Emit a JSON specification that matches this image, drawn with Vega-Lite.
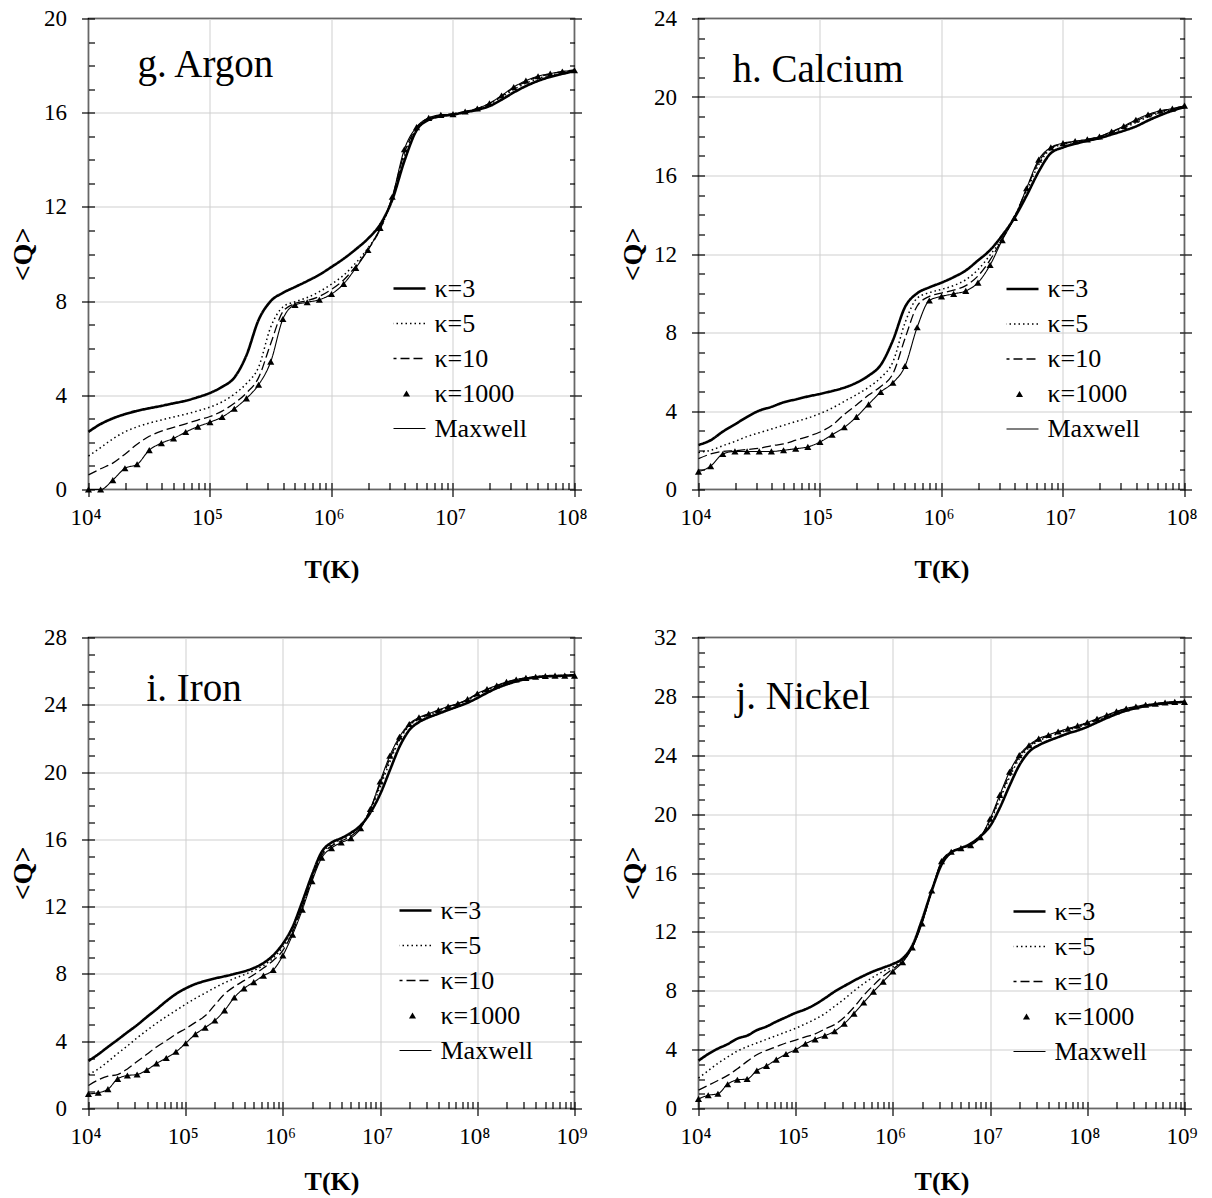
{
"$schema": "https://vega.github.io/schema/vega-lite/v6.json",
"background": "white",
"padding": {"left": 8.5, "top": 6.5, "right": 5, "bottom": 0},
"columns": 2,
"bounds": "flush",
"spacing": {"row": 148, "column": 124},
"resolve": {"scale": {"strokeDash": "independent"}, "legend": {"strokeDash": "independent"}},
"config": {
  "view": {"stroke": "black", "strokeWidth": 1.5},
  "font": "Liberation Serif",
  "axis": {"labelFont": "Liberation Serif", "titleFont": "Liberation Serif", "labelColor": "black", "titleColor": "black", "tickColor": "black", "tickWidth": 1.2, "domain": false, "gridColor": "#cfcfcf", "gridWidth": 1, "labelFlush": false, "labelOverlap": false},
  "legend": {"labelFont": "Liberation Serif"},
  "title": {"font": "Liberation Serif", "fontSize": 39, "fontWeight": "normal", "color": "black", "anchor": "start", "frame": "group", "orient": "top", "offset": 0, "baseline": "alphabetic"}
},
"datasets": {
"g": [
{"T":1e4,"k3":2.45,"k5":1.42,"k10":0.62,"k1000":0,"mx":0},
{"T":1.2589e4,"k3":2.78,"k5":1.78,"k10":0.88,"k1000":0,"mx":0},
{"T":1.5849e4,"k3":3.02,"k5":2.15,"k10":1.12,"k1000":0.4,"mx":0.4},
{"T":1.9953e4,"k3":3.2,"k5":2.45,"k10":1.5,"k1000":0.9,"mx":0.9},
{"T":2.5119e4,"k3":3.34,"k5":2.66,"k10":1.92,"k1000":1.07,"mx":1.07},
{"T":3.1623e4,"k3":3.45,"k5":2.82,"k10":2.26,"k1000":1.67,"mx":1.67},
{"T":3.9811e4,"k3":3.55,"k5":2.95,"k10":2.48,"k1000":1.97,"mx":1.97},
{"T":5.0119e4,"k3":3.66,"k5":3.08,"k10":2.64,"k1000":2.17,"mx":2.17},
{"T":6.3096e4,"k3":3.77,"k5":3.2,"k10":2.79,"k1000":2.44,"mx":2.44},
{"T":7.9433e4,"k3":3.92,"k5":3.34,"k10":2.95,"k1000":2.67,"mx":2.67},
{"T":1e5,"k3":4.1,"k5":3.5,"k10":3.1,"k1000":2.86,"mx":2.86},
{"T":1.2589e5,"k3":4.36,"k5":3.72,"k10":3.33,"k1000":3.08,"mx":3.08},
{"T":1.5849e5,"k3":4.75,"k5":4.05,"k10":3.66,"k1000":3.43,"mx":3.43},
{"T":1.9953e5,"k3":5.7,"k5":4.5,"k10":4.1,"k1000":3.87,"mx":3.87},
{"T":2.5119e5,"k3":7.2,"k5":5.2,"k10":4.75,"k1000":4.45,"mx":4.45},
{"T":3.1623e5,"k3":8.0,"k5":6.9,"k10":6.2,"k1000":5.43,"mx":5.43},
{"T":3.9811e5,"k3":8.35,"k5":7.75,"k10":7.55,"k1000":7.24,"mx":7.24},
{"T":5.0119e5,"k3":8.6,"k5":7.97,"k10":7.9,"k1000":7.84,"mx":7.84},
{"T":6.3096e5,"k3":8.85,"k5":8.15,"k10":8.02,"k1000":7.95,"mx":7.95},
{"T":7.9433e5,"k3":9.12,"k5":8.4,"k10":8.2,"k1000":8.06,"mx":8.06},
{"T":1e6,"k3":9.45,"k5":8.72,"k10":8.5,"k1000":8.3,"mx":8.3},
{"T":1.2589e6,"k3":9.8,"k5":9.1,"k10":8.9,"k1000":8.73,"mx":8.73},
{"T":1.5849e6,"k3":10.2,"k5":9.62,"k10":9.48,"k1000":9.41,"mx":9.41},
{"T":1.9953e6,"k3":10.65,"k5":10.25,"k10":10.18,"k1000":10.17,"mx":10.17},
{"T":2.5119e6,"k3":11.25,"k5":11.05,"k10":11.05,"k1000":11.11,"mx":11.11},
{"T":3.1623e6,"k3":12.3,"k5":12.38,"k10":12.4,"k1000":12.43,"mx":12.43},
{"T":3.9811e6,"k3":13.95,"k5":14.15,"k10":14.3,"k1000":14.45,"mx":14.45},
{"T":5.0119e6,"k3":15.25,"k5":15.32,"k10":15.36,"k1000":15.39,"mx":15.39},
{"T":6.3096e6,"k3":15.7,"k5":15.75,"k10":15.77,"k1000":15.78,"mx":15.78},
{"T":7.9433e6,"k3":15.85,"k5":15.88,"k10":15.9,"k1000":15.91,"mx":15.91},
{"T":1e7,"k3":15.92,"k5":15.94,"k10":15.95,"k1000":15.94,"mx":15.94},
{"T":1.2589e7,"k3":16.02,"k5":16.04,"k10":16.05,"k1000":16.05,"mx":16.05},
{"T":1.5849e7,"k3":16.12,"k5":16.16,"k10":16.18,"k1000":16.18,"mx":16.18},
{"T":1.9953e7,"k3":16.28,"k5":16.36,"k10":16.4,"k1000":16.4,"mx":16.4},
{"T":2.5119e7,"k3":16.55,"k5":16.66,"k10":16.7,"k1000":16.73,"mx":16.73},
{"T":3.1623e7,"k3":16.86,"k5":16.98,"k10":17.05,"k1000":17.09,"mx":17.09},
{"T":3.9811e7,"k3":17.13,"k5":17.25,"k10":17.32,"k1000":17.36,"mx":17.36},
{"T":5.0119e7,"k3":17.35,"k5":17.45,"k10":17.52,"k1000":17.55,"mx":17.55},
{"T":6.3096e7,"k3":17.52,"k5":17.6,"k10":17.64,"k1000":17.66,"mx":17.66},
{"T":7.9433e7,"k3":17.65,"k5":17.7,"k10":17.74,"k1000":17.75,"mx":17.75},
{"T":1e8,"k3":17.77,"k5":17.8,"k10":17.82,"k1000":17.8,"mx":17.8}
],
"h": [
{"T":1e4,"k3":2.27,"k5":1.89,"k10":1.57,"k1000":0.91,"mx":0.91},
{"T":1.2589e4,"k3":2.51,"k5":2.0,"k10":1.81,"k1000":1.19,"mx":1.19},
{"T":1.5849e4,"k3":2.95,"k5":2.23,"k10":1.94,"k1000":1.81,"mx":1.81},
{"T":1.9953e4,"k3":3.32,"k5":2.45,"k10":1.98,"k1000":1.94,"mx":1.94},
{"T":2.5119e4,"k3":3.7,"k5":2.7,"k10":2.04,"k1000":1.94,"mx":1.94},
{"T":3.1623e4,"k3":4.02,"k5":2.89,"k10":2.1,"k1000":1.94,"mx":1.94},
{"T":3.9811e4,"k3":4.21,"k5":3.08,"k10":2.23,"k1000":1.94,"mx":1.94},
{"T":5.0119e4,"k3":4.44,"k5":3.27,"k10":2.32,"k1000":2.0,"mx":2.0},
{"T":6.3096e4,"k3":4.59,"k5":3.46,"k10":2.51,"k1000":2.08,"mx":2.08},
{"T":7.9433e4,"k3":4.74,"k5":3.64,"k10":2.7,"k1000":2.17,"mx":2.17},
{"T":1e5,"k3":4.87,"k5":3.87,"k10":2.93,"k1000":2.42,"mx":2.42},
{"T":1.2589e5,"k3":5.02,"k5":4.15,"k10":3.27,"k1000":2.79,"mx":2.79},
{"T":1.5849e5,"k3":5.19,"k5":4.49,"k10":3.83,"k1000":3.17,"mx":3.17},
{"T":1.9953e5,"k3":5.44,"k5":4.83,"k10":4.31,"k1000":3.7,"mx":3.7},
{"T":2.5119e5,"k3":5.8,"k5":5.21,"k10":4.81,"k1000":4.34,"mx":4.34},
{"T":3.1623e5,"k3":6.35,"k5":5.7,"k10":5.25,"k1000":4.97,"mx":4.97},
{"T":3.9811e5,"k3":7.6,"k5":6.5,"k10":5.9,"k1000":5.44,"mx":5.44},
{"T":5.0119e5,"k3":9.3,"k5":8.5,"k10":7.7,"k1000":6.29,"mx":6.29},
{"T":6.3096e5,"k3":10.0,"k5":9.75,"k10":9.35,"k1000":8.27,"mx":8.27},
{"T":7.9433e5,"k3":10.3,"k5":10.03,"k10":9.84,"k1000":9.63,"mx":9.63},
{"T":1e6,"k3":10.54,"k5":10.2,"k10":10.01,"k1000":9.84,"mx":9.84},
{"T":1.2589e6,"k3":10.82,"k5":10.39,"k10":10.16,"k1000":9.97,"mx":9.97},
{"T":1.5849e6,"k3":11.16,"k5":10.69,"k10":10.39,"k1000":10.12,"mx":10.12},
{"T":1.9953e6,"k3":11.67,"k5":11.2,"k10":10.88,"k1000":10.54,"mx":10.54},
{"T":2.5119e6,"k3":12.2,"k5":11.95,"k10":11.7,"k1000":11.44,"mx":11.44},
{"T":3.1623e6,"k3":12.95,"k5":12.8,"k10":12.76,"k1000":12.71,"mx":12.71},
{"T":3.9811e6,"k3":13.84,"k5":13.9,"k10":13.88,"k1000":13.84,"mx":13.84},
{"T":5.0119e6,"k3":14.97,"k5":15.2,"k10":15.3,"k1000":15.35,"mx":15.35},
{"T":6.3096e6,"k3":16.2,"k5":16.55,"k10":16.7,"k1000":16.81,"mx":16.81},
{"T":7.9433e6,"k3":17.14,"k5":17.35,"k10":17.4,"k1000":17.43,"mx":17.43},
{"T":1e7,"k3":17.43,"k5":17.58,"k10":17.62,"k1000":17.65,"mx":17.65},
{"T":1.2589e7,"k3":17.62,"k5":17.7,"k10":17.73,"k1000":17.75,"mx":17.75},
{"T":1.5849e7,"k3":17.77,"k5":17.82,"k10":17.84,"k1000":17.84,"mx":17.84},
{"T":1.9953e7,"k3":17.9,"k5":17.96,"k10":17.98,"k1000":17.99,"mx":17.99},
{"T":2.5119e7,"k3":18.09,"k5":18.18,"k10":18.22,"k1000":18.24,"mx":18.24},
{"T":3.1623e7,"k3":18.28,"k5":18.42,"k10":18.48,"k1000":18.52,"mx":18.52},
{"T":3.9811e7,"k3":18.5,"k5":18.7,"k10":18.78,"k1000":18.84,"mx":18.84},
{"T":5.0119e7,"k3":18.8,"k5":18.98,"k10":19.05,"k1000":19.11,"mx":19.11},
{"T":6.3096e7,"k3":19.07,"k5":19.2,"k10":19.26,"k1000":19.3,"mx":19.3},
{"T":7.9433e7,"k3":19.3,"k5":19.37,"k10":19.4,"k1000":19.41,"mx":19.41},
{"T":1e8,"k3":19.49,"k5":19.54,"k10":19.56,"k1000":19.56,"mx":19.56}
],
"i": [
{"T":1e4,"k3":2.83,"k5":2.02,"k10":1.37,"k1000":0.87,"mx":0.87},
{"T":1.2589e4,"k3":3.22,"k5":2.35,"k10":1.7,"k1000":0.94,"mx":0.94},
{"T":1.5849e4,"k3":3.66,"k5":2.79,"k10":1.92,"k1000":1.15,"mx":1.15},
{"T":1.9953e4,"k3":4.09,"k5":3.27,"k10":2.02,"k1000":1.76,"mx":1.76},
{"T":2.5119e4,"k3":4.53,"k5":3.72,"k10":2.35,"k1000":1.96,"mx":1.96},
{"T":3.1623e4,"k3":4.96,"k5":4.2,"k10":2.79,"k1000":2.02,"mx":2.02},
{"T":3.9811e4,"k3":5.44,"k5":4.64,"k10":3.22,"k1000":2.29,"mx":2.29},
{"T":5.0119e4,"k3":5.9,"k5":5.07,"k10":3.66,"k1000":2.68,"mx":2.68},
{"T":6.3096e4,"k3":6.38,"k5":5.46,"k10":4.03,"k1000":3.0,"mx":3.0},
{"T":7.9433e4,"k3":6.81,"k5":5.83,"k10":4.42,"k1000":3.37,"mx":3.37},
{"T":1e5,"k3":7.14,"k5":6.2,"k10":4.75,"k1000":3.88,"mx":3.88},
{"T":1.2589e5,"k3":7.4,"k5":6.55,"k10":5.12,"k1000":4.42,"mx":4.42},
{"T":1.5849e5,"k3":7.58,"k5":6.86,"k10":5.51,"k1000":4.81,"mx":4.81},
{"T":1.9953e5,"k3":7.73,"k5":7.18,"k10":6.16,"k1000":5.23,"mx":5.23},
{"T":2.5119e5,"k3":7.86,"k5":7.47,"k10":6.81,"k1000":5.83,"mx":5.83},
{"T":3.1623e5,"k3":8.0,"k5":7.73,"k10":7.25,"k1000":6.6,"mx":6.6},
{"T":3.9811e5,"k3":8.15,"k5":7.95,"k10":7.6,"k1000":7.14,"mx":7.14},
{"T":5.0119e5,"k3":8.35,"k5":8.2,"k10":7.95,"k1000":7.51,"mx":7.51},
{"T":6.3096e5,"k3":8.65,"k5":8.5,"k10":8.35,"k1000":7.9,"mx":7.9},
{"T":7.9433e5,"k3":9.1,"k5":8.95,"k10":8.8,"k1000":8.23,"mx":8.23},
{"T":1e6,"k3":9.8,"k5":9.6,"k10":9.4,"k1000":9.1,"mx":9.1},
{"T":1.2589e6,"k3":10.8,"k5":10.6,"k10":10.5,"k1000":10.34,"mx":10.34},
{"T":1.5849e6,"k3":12.3,"k5":12.1,"k10":12.0,"k1000":11.82,"mx":11.82},
{"T":1.9953e6,"k3":13.9,"k5":13.75,"k10":13.65,"k1000":13.52,"mx":13.52},
{"T":2.5119e6,"k3":15.26,"k5":15.15,"k10":15.05,"k1000":14.91,"mx":14.91},
{"T":3.1623e6,"k3":15.81,"k5":15.7,"k10":15.6,"k1000":15.48,"mx":15.48},
{"T":3.9811e6,"k3":16.07,"k5":16.0,"k10":15.9,"k1000":15.81,"mx":15.81},
{"T":5.0119e6,"k3":16.39,"k5":16.3,"k10":16.2,"k1000":16.07,"mx":16.07},
{"T":6.3096e6,"k3":16.83,"k5":16.78,"k10":16.72,"k1000":16.66,"mx":16.66},
{"T":7.9433e6,"k3":17.59,"k5":17.75,"k10":17.8,"k1000":17.81,"mx":17.81},
{"T":1e7,"k3":18.68,"k5":19.1,"k10":19.3,"k1000":19.44,"mx":19.44},
{"T":1.2589e7,"k3":20.1,"k5":20.6,"k10":20.8,"k1000":20.97,"mx":20.97},
{"T":1.5849e7,"k3":21.51,"k5":21.9,"k10":22.0,"k1000":22.1,"mx":22.1},
{"T":1.9953e7,"k3":22.49,"k5":22.75,"k10":22.8,"k1000":22.86,"mx":22.86},
{"T":2.5119e7,"k3":22.97,"k5":23.15,"k10":23.2,"k1000":23.25,"mx":23.25},
{"T":3.1623e7,"k3":23.25,"k5":23.4,"k10":23.45,"k1000":23.47,"mx":23.47},
{"T":3.9811e7,"k3":23.47,"k5":23.62,"k10":23.66,"k1000":23.69,"mx":23.69},
{"T":5.0119e7,"k3":23.69,"k5":23.84,"k10":23.88,"k1000":23.9,"mx":23.9},
{"T":6.3096e7,"k3":23.9,"k5":24.02,"k10":24.06,"k1000":24.08,"mx":24.08},
{"T":7.9433e7,"k3":24.12,"k5":24.26,"k10":24.31,"k1000":24.34,"mx":24.34},
{"T":1e8,"k3":24.4,"k5":24.58,"k10":24.63,"k1000":24.67,"mx":24.67},
{"T":1.2589e8,"k3":24.71,"k5":24.86,"k10":24.9,"k1000":24.93,"mx":24.93},
{"T":1.5849e8,"k3":24.99,"k5":25.1,"k10":25.13,"k1000":25.15,"mx":25.15},
{"T":1.9953e8,"k3":25.21,"k5":25.31,"k10":25.34,"k1000":25.36,"mx":25.36},
{"T":2.5119e8,"k3":25.39,"k5":25.46,"k10":25.49,"k1000":25.5,"mx":25.5},
{"T":3.1623e8,"k3":25.54,"k5":25.58,"k10":25.6,"k1000":25.6,"mx":25.6},
{"T":3.9811e8,"k3":25.63,"k5":25.66,"k10":25.67,"k1000":25.67,"mx":25.67},
{"T":5.0119e8,"k3":25.69,"k5":25.7,"k10":25.71,"k1000":25.71,"mx":25.71},
{"T":6.3096e8,"k3":25.71,"k5":25.73,"k10":25.73,"k1000":25.73,"mx":25.73},
{"T":7.9433e8,"k3":25.73,"k5":25.74,"k10":25.74,"k1000":25.73,"mx":25.73},
{"T":1e9,"k3":25.76,"k5":25.76,"k10":25.75,"k1000":25.73,"mx":25.73}
],
"j": [
{"T":1e4,"k3":3.25,"k5":2.07,"k10":1.25,"k1000":0.65,"mx":0.65},
{"T":1.2589e4,"k3":3.7,"k5":2.57,"k10":1.57,"k1000":0.9,"mx":0.9},
{"T":1.5849e4,"k3":4.07,"k5":3.07,"k10":1.9,"k1000":1.0,"mx":1.0},
{"T":1.9953e4,"k3":4.37,"k5":3.5,"k10":2.25,"k1000":1.65,"mx":1.65},
{"T":2.5119e4,"k3":4.75,"k5":3.9,"k10":2.7,"k1000":1.95,"mx":1.95},
{"T":3.1623e4,"k3":4.95,"k5":4.2,"k10":3.2,"k1000":2.0,"mx":2.0},
{"T":3.9811e4,"k3":5.32,"k5":4.45,"k10":3.65,"k1000":2.57,"mx":2.57},
{"T":5.0119e4,"k3":5.57,"k5":4.7,"k10":3.95,"k1000":2.9,"mx":2.9},
{"T":6.3096e4,"k3":5.9,"k5":4.95,"k10":4.2,"k1000":3.32,"mx":3.32},
{"T":7.9433e4,"k3":6.2,"k5":5.2,"k10":4.45,"k1000":3.7,"mx":3.7},
{"T":1e5,"k3":6.5,"k5":5.45,"k10":4.65,"k1000":4.0,"mx":4.0},
{"T":1.2589e5,"k3":6.74,"k5":5.75,"k10":4.87,"k1000":4.4,"mx":4.4},
{"T":1.5849e5,"k3":7.07,"k5":6.07,"k10":5.07,"k1000":4.7,"mx":4.7},
{"T":1.9953e5,"k3":7.49,"k5":6.45,"k10":5.4,"k1000":4.95,"mx":4.95},
{"T":2.5119e5,"k3":7.94,"k5":6.94,"k10":5.7,"k1000":5.25,"mx":5.25},
{"T":3.1623e5,"k3":8.32,"k5":7.44,"k10":6.2,"k1000":5.77,"mx":5.77},
{"T":3.9811e5,"k3":8.69,"k5":7.99,"k10":6.89,"k1000":6.45,"mx":6.45},
{"T":5.0119e5,"k3":9.02,"k5":8.49,"k10":7.69,"k1000":7.2,"mx":7.2},
{"T":6.3096e5,"k3":9.32,"k5":8.94,"k10":8.37,"k1000":7.94,"mx":7.94},
{"T":7.9433e5,"k3":9.57,"k5":9.32,"k10":8.99,"k1000":8.62,"mx":8.62},
{"T":1e6,"k3":9.82,"k5":9.62,"k10":9.49,"k1000":9.32,"mx":9.32},
{"T":1.2589e6,"k3":10.19,"k5":10.07,"k10":9.99,"k1000":9.94,"mx":9.94},
{"T":1.5849e6,"k3":11.07,"k5":11.0,"k10":10.97,"k1000":10.94,"mx":10.94},
{"T":1.9953e6,"k3":12.82,"k5":12.7,"k10":12.62,"k1000":12.57,"mx":12.57},
{"T":2.5119e6,"k3":14.81,"k5":14.81,"k10":14.81,"k1000":14.81,"mx":14.81},
{"T":3.1623e6,"k3":16.56,"k5":16.7,"k10":16.75,"k1000":16.81,"mx":16.81},
{"T":3.9811e6,"k3":17.39,"k5":17.42,"k10":17.43,"k1000":17.44,"mx":17.44},
{"T":5.0119e6,"k3":17.69,"k5":17.69,"k10":17.69,"k1000":17.69,"mx":17.69},
{"T":6.3096e6,"k3":17.99,"k5":17.93,"k10":17.9,"k1000":17.89,"mx":17.89},
{"T":7.9433e6,"k3":18.49,"k5":18.46,"k10":18.45,"k1000":18.44,"mx":18.44},
{"T":1e7,"k3":19.19,"k5":19.5,"k10":19.6,"k1000":19.69,"mx":19.69},
{"T":1.2589e7,"k3":20.43,"k5":21.0,"k10":21.15,"k1000":21.31,"mx":21.31},
{"T":1.5849e7,"k3":21.93,"k5":22.5,"k10":22.7,"k1000":22.88,"mx":22.88},
{"T":1.9953e7,"k3":23.31,"k5":23.75,"k10":23.9,"k1000":24.01,"mx":24.01},
{"T":2.5119e7,"k3":24.23,"k5":24.5,"k10":24.6,"k1000":24.68,"mx":24.68},
{"T":3.1623e7,"k3":24.68,"k5":24.98,"k10":25.05,"k1000":25.13,"mx":25.13},
{"T":3.9811e7,"k3":24.98,"k5":25.25,"k10":25.32,"k1000":25.38,"mx":25.38},
{"T":5.0119e7,"k3":25.23,"k5":25.48,"k10":25.55,"k1000":25.61,"mx":25.61},
{"T":6.3096e7,"k3":25.48,"k5":25.7,"k10":25.76,"k1000":25.81,"mx":25.81},
{"T":7.9433e7,"k3":25.68,"k5":25.9,"k10":25.96,"k1000":26.01,"mx":26.01},
{"T":1e8,"k3":25.93,"k5":26.12,"k10":26.18,"k1000":26.23,"mx":26.23},
{"T":1.2589e8,"k3":26.23,"k5":26.38,"k10":26.43,"k1000":26.48,"mx":26.48},
{"T":1.5849e8,"k3":26.53,"k5":26.65,"k10":26.69,"k1000":26.73,"mx":26.73},
{"T":1.9953e8,"k3":26.8,"k5":26.92,"k10":26.95,"k1000":26.98,"mx":26.98},
{"T":2.5119e8,"k3":27.03,"k5":27.13,"k10":27.16,"k1000":27.18,"mx":27.18},
{"T":3.1623e8,"k3":27.2,"k5":27.27,"k10":27.29,"k1000":27.31,"mx":27.31},
{"T":3.9811e8,"k3":27.35,"k5":27.4,"k10":27.42,"k1000":27.43,"mx":27.43},
{"T":5.0119e8,"k3":27.45,"k5":27.48,"k10":27.5,"k1000":27.5,"mx":27.5},
{"T":6.3096e8,"k3":27.53,"k5":27.56,"k10":27.57,"k1000":27.58,"mx":27.58},
{"T":7.9433e8,"k3":27.58,"k5":27.61,"k10":27.62,"k1000":27.63,"mx":27.63},
{"T":1e9,"k3":27.63,"k5":27.65,"k10":27.65,"k1000":27.63,"mx":27.63}
]
},
"concat": [
{
 "width": 486, "height": 471,
 "data": {"name": "g"},
 "title": {"text": "g. Argon", "dx": 49, "dy": 81},
 "resolve": {"axis": {"x": "independent", "y": "independent"}},
 "layer": [
  {
   "transform": [{"fold": ["k3","k5","k10","mx"], "as": ["s","Q"]}],
   "mark": {"type": "line", "color": "black", "interpolate": "monotone"},
   "encoding": {
    "x": {"field": "T", "type": "quantitative", "scale": {"type": "log", "domain": [1e4, 1e8], "nice": false},
          "axis": {"orient": "bottom", "values": [1e4,1e5,1e6,1e7,1e8], "labelExpr": "'10' + ['⁰','¹','²','³','⁴','⁵','⁶','⁷','⁸','⁹'][round(log(datum.value)/LN10)]", "grid": true, "tickSize": 7, "labelFontSize": 23, "labelPadding": 10, "labelOffset": -3, "title": "T(K)", "titleFontSize": 26, "titleFontWeight": "bold", "titlePadding": 27, "minExtent": 40, "maxExtent": 40}},
    "y": {"field": "Q", "type": "quantitative", "scale": {"domain": [0, 20], "nice": false, "zero": false},
          "axis": {"orient": "left", "values": [0,4,8,12,16,20], "grid": true, "tickSize": 7, "labelFontSize": 23, "labelPadding": 15, "title": "<Q>", "titleFontSize": 28, "titleFontWeight": "bold", "titlePadding": 7, "minExtent": 44, "maxExtent": 44}},
    "strokeDash": {"field": "s", "type": "nominal", "scale": {"domain": ["k3","k5","k10","k1000","mx"], "range": [[1,0],[1.5,3],[9,4],[1,0],[1,0]]},
          "legend": {"orient": "none", "legendX": 305, "legendY": 252.5, "title": null, "padding": 0, "clipHeight": 35, "rowPadding": 0, "symbolType": "stroke", "symbolSize": 1444, "symbolStrokeColor": "black", "symbolFillColor": "black", "symbolStrokeWidth": 1, "labelFont": "Liberation Serif", "labelFontSize": 26, "labelColor": "black", "labelOffset": 8, "labelLimit": 300,
                     "labelExpr": "{'k3':'κ=3','k5':'κ=5','k10':'κ=10','k1000':'κ=1000','mx':'Maxwell'}[datum.value]",
                     "encode": {"labels": {"update": {"font": {"value": "Liberation Serif"}, "fontSize": {"value": 26}, "dx": {"value": 7}}},
                                "symbols": {"update": {"shape": {"signal": "datum.value === 'k1000' ? 'triangle-up' : 'stroke'"}, "size": {"signal": "datum.value === 'k1000' ? 50 : 1444"}, "strokeWidth": {"signal": "datum.value === 'k3' ? 2.6 : datum.value === 'k5' ? 1.6 : datum.value === 'k10' ? 1.4 : datum.value === 'k1000' ? 0 : 1.1"}, "fill": {"value": "black"}, "stroke": {"value": "black"}, "opacity": {"value": 1}}}}}},
    "strokeWidth": {"condition": [{"test": "datum.s === 'k3'", "value": 2.6}, {"test": "datum.s === 'k5'", "value": 1.5}, {"test": "datum.s === 'k10'", "value": 1.3}], "value": 1.1}
   }
  },
  {
   "mark": {"type": "point", "shape": "triangle-up", "filled": true, "color": "black", "size": 50, "opacity": 1},
   "encoding": {
    "x": {"field": "T", "type": "quantitative", "scale": {"type": "log", "domain": [1e4, 1e8], "nice": false},
          "axis": {"orient": "bottom", "values": [1e4,2e4,3e4,4e4,5e4,6e4,7e4,8e4,9e4,1e5,2e5,3e5,4e5,5e5,6e5,7e5,8e5,9e5,1e6,2e6,3e6,4e6,5e6,6e6,7e6,8e6,9e6,1e7,2e7,3e7,4e7,5e7,6e7,7e7,8e7,9e7,1e8], "labels": false, "grid": false, "tickSize": -7, "title": null, "minExtent": 0, "maxExtent": 0}},
    "y": {"field": "k1000", "type": "quantitative", "scale": {"domain": [0, 20], "nice": false, "zero": false},
          "axis": {"orient": "left", "values": [0,1,2,3,4,5,6,7,8,9,10,11,12,13,14,15,16,17,18,19,20], "labels": false, "grid": false, "tickSize": -6, "title": null, "minExtent": 0, "maxExtent": 0}}
   }
  },
  {
   "mark": {"type": "point", "opacity": 0},
   "encoding": {
    "x": {"field": "T", "type": "quantitative", "scale": {"type": "log", "domain": [1e4, 1e8], "nice": false}, "axis": null},
    "y": {"field": "k1000", "type": "quantitative", "scale": {"domain": [0, 20], "nice": false, "zero": false},
          "axis": {"orient": "right", "values": [0,1,2,3,4,5,6,7,8,9,10,11,12,13,14,15,16,17,18,19,20], "labels": false, "grid": false, "tickSize": -5, "title": null, "minExtent": 0, "maxExtent": 0}}
   }
  },
  {
   "mark": {"type": "point", "opacity": 0},
   "encoding": {
    "x": {"field": "T", "type": "quantitative", "scale": {"type": "log", "domain": [1e4, 1e8], "nice": false}, "axis": null},
    "y": {"field": "k1000", "type": "quantitative", "scale": {"domain": [0, 20], "nice": false, "zero": false},
          "axis": {"orient": "right", "values": [0,4,8,12,16,20], "labels": false, "grid": false, "tickSize": 7, "title": null, "minExtent": 0, "maxExtent": 0}}
   }
  }
 ]
},
{
 "width": 486, "height": 471,
 "data": {"name": "h"},
 "title": {"text": "h. Calcium", "dx": 34, "dy": 86},
 "resolve": {"axis": {"x": "independent", "y": "independent"}},
 "layer": [
  {
   "transform": [{"fold": ["k3","k5","k10","mx"], "as": ["s","Q"]}],
   "mark": {"type": "line", "color": "black", "interpolate": "monotone"},
   "encoding": {
    "x": {"field": "T", "type": "quantitative", "scale": {"type": "log", "domain": [1e4, 1e8], "nice": false},
          "axis": {"orient": "bottom", "values": [1e4,1e5,1e6,1e7,1e8], "labelExpr": "'10' + ['⁰','¹','²','³','⁴','⁵','⁶','⁷','⁸','⁹'][round(log(datum.value)/LN10)]", "grid": true, "tickSize": 7, "labelFontSize": 23, "labelPadding": 10, "labelOffset": -3, "title": "T(K)", "titleFontSize": 26, "titleFontWeight": "bold", "titlePadding": 27, "minExtent": 40, "maxExtent": 40}},
    "y": {"field": "Q", "type": "quantitative", "scale": {"domain": [0, 24], "nice": false, "zero": false},
          "axis": {"orient": "left", "values": [0,4,8,12,16,20,24], "grid": true, "tickSize": 7, "labelFontSize": 23, "labelPadding": 15, "title": "<Q>", "titleFontSize": 28, "titleFontWeight": "bold", "titlePadding": 7, "minExtent": 44, "maxExtent": 44}},
    "strokeDash": {"field": "s", "type": "nominal", "scale": {"domain": ["k3","k5","k10","k1000","mx"], "range": [[1,0],[1.5,3],[9,4],[1,0],[1,0]]},
          "legend": {"orient": "none", "legendX": 308, "legendY": 253, "title": null, "padding": 0, "clipHeight": 35, "rowPadding": 0, "symbolType": "stroke", "symbolSize": 1444, "symbolStrokeColor": "black", "symbolFillColor": "black", "symbolStrokeWidth": 1, "labelFont": "Liberation Serif", "labelFontSize": 26, "labelColor": "black", "labelOffset": 8, "labelLimit": 300,
                     "labelExpr": "{'k3':'κ=3','k5':'κ=5','k10':'κ=10','k1000':'κ=1000','mx':'Maxwell'}[datum.value]",
                     "encode": {"labels": {"update": {"font": {"value": "Liberation Serif"}, "fontSize": {"value": 26}, "dx": {"value": 7}}},
                                "symbols": {"update": {"shape": {"signal": "datum.value === 'k1000' ? 'triangle-up' : 'stroke'"}, "size": {"signal": "datum.value === 'k1000' ? 50 : 1444"}, "strokeWidth": {"signal": "datum.value === 'k3' ? 2.6 : datum.value === 'k5' ? 1.6 : datum.value === 'k10' ? 1.4 : datum.value === 'k1000' ? 0 : 1.1"}, "fill": {"value": "black"}, "stroke": {"value": "black"}, "opacity": {"value": 1}}}}}},
    "strokeWidth": {"condition": [{"test": "datum.s === 'k3'", "value": 2.6}, {"test": "datum.s === 'k5'", "value": 1.5}, {"test": "datum.s === 'k10'", "value": 1.3}], "value": 1.1}
   }
  },
  {
   "mark": {"type": "point", "shape": "triangle-up", "filled": true, "color": "black", "size": 50, "opacity": 1},
   "encoding": {
    "x": {"field": "T", "type": "quantitative", "scale": {"type": "log", "domain": [1e4, 1e8], "nice": false},
          "axis": {"orient": "bottom", "values": [1e4,2e4,3e4,4e4,5e4,6e4,7e4,8e4,9e4,1e5,2e5,3e5,4e5,5e5,6e5,7e5,8e5,9e5,1e6,2e6,3e6,4e6,5e6,6e6,7e6,8e6,9e6,1e7,2e7,3e7,4e7,5e7,6e7,7e7,8e7,9e7,1e8], "labels": false, "grid": false, "tickSize": -7, "title": null, "minExtent": 0, "maxExtent": 0}},
    "y": {"field": "k1000", "type": "quantitative", "scale": {"domain": [0, 24], "nice": false, "zero": false},
          "axis": {"orient": "left", "values": [0,1,2,3,4,5,6,7,8,9,10,11,12,13,14,15,16,17,18,19,20,21,22,23,24], "labels": false, "grid": false, "tickSize": -6, "title": null, "minExtent": 0, "maxExtent": 0}}
   }
  },
  {
   "mark": {"type": "point", "opacity": 0},
   "encoding": {
    "x": {"field": "T", "type": "quantitative", "scale": {"type": "log", "domain": [1e4, 1e8], "nice": false}, "axis": null},
    "y": {"field": "k1000", "type": "quantitative", "scale": {"domain": [0, 24], "nice": false, "zero": false},
          "axis": {"orient": "right", "values": [0,1,2,3,4,5,6,7,8,9,10,11,12,13,14,15,16,17,18,19,20,21,22,23,24], "labels": false, "grid": false, "tickSize": -5, "title": null, "minExtent": 0, "maxExtent": 0}}
   }
  },
  {
   "mark": {"type": "point", "opacity": 0},
   "encoding": {
    "x": {"field": "T", "type": "quantitative", "scale": {"type": "log", "domain": [1e4, 1e8], "nice": false}, "axis": null},
    "y": {"field": "k1000", "type": "quantitative", "scale": {"domain": [0, 24], "nice": false, "zero": false},
          "axis": {"orient": "right", "values": [0,4,8,12,16,20,24], "labels": false, "grid": false, "tickSize": 7, "title": null, "minExtent": 0, "maxExtent": 0}}
   }
  }
 ]
},
{
 "width": 486, "height": 471,
 "data": {"name": "i"},
 "title": {"text": "i. Iron", "dx": 58, "dy": 86},
 "resolve": {"axis": {"x": "independent", "y": "independent"}},
 "layer": [
  {
   "transform": [{"fold": ["k3","k5","k10","mx"], "as": ["s","Q"]}],
   "mark": {"type": "line", "color": "black", "interpolate": "monotone"},
   "encoding": {
    "x": {"field": "T", "type": "quantitative", "scale": {"type": "log", "domain": [1e4, 1e9], "nice": false},
          "axis": {"orient": "bottom", "values": [1e4,1e5,1e6,1e7,1e8,1e9], "labelExpr": "'10' + ['⁰','¹','²','³','⁴','⁵','⁶','⁷','⁸','⁹'][round(log(datum.value)/LN10)]", "grid": true, "tickSize": 7, "labelFontSize": 23, "labelPadding": 10, "labelOffset": -3, "title": "T(K)", "titleFontSize": 26, "titleFontWeight": "bold", "titlePadding": 20, "minExtent": 40, "maxExtent": 40}},
    "y": {"field": "Q", "type": "quantitative", "scale": {"domain": [0, 28], "nice": false, "zero": false},
          "axis": {"orient": "left", "values": [0,4,8,12,16,20,24,28], "grid": true, "tickSize": 7, "labelFontSize": 23, "labelPadding": 15, "title": "<Q>", "titleFontSize": 28, "titleFontWeight": "bold", "titlePadding": 7, "minExtent": 44, "maxExtent": 44}},
    "strokeDash": {"field": "s", "type": "nominal", "scale": {"domain": ["k3","k5","k10","k1000","mx"], "range": [[1,0],[1.5,3],[9,4],[1,0],[1,0]]},
          "legend": {"orient": "none", "legendX": 311, "legendY": 255.5, "title": null, "padding": 0, "clipHeight": 35, "rowPadding": 0, "symbolType": "stroke", "symbolSize": 1444, "symbolStrokeColor": "black", "symbolFillColor": "black", "symbolStrokeWidth": 1, "labelFont": "Liberation Serif", "labelFontSize": 26, "labelColor": "black", "labelOffset": 8, "labelLimit": 300,
                     "labelExpr": "{'k3':'κ=3','k5':'κ=5','k10':'κ=10','k1000':'κ=1000','mx':'Maxwell'}[datum.value]",
                     "encode": {"labels": {"update": {"font": {"value": "Liberation Serif"}, "fontSize": {"value": 26}, "dx": {"value": 7}}},
                                "symbols": {"update": {"shape": {"signal": "datum.value === 'k1000' ? 'triangle-up' : 'stroke'"}, "size": {"signal": "datum.value === 'k1000' ? 50 : 1444"}, "strokeWidth": {"signal": "datum.value === 'k3' ? 2.6 : datum.value === 'k5' ? 1.6 : datum.value === 'k10' ? 1.4 : datum.value === 'k1000' ? 0 : 1.1"}, "fill": {"value": "black"}, "stroke": {"value": "black"}, "opacity": {"value": 1}}}}}},
    "strokeWidth": {"condition": [{"test": "datum.s === 'k3'", "value": 2.6}, {"test": "datum.s === 'k5'", "value": 1.5}, {"test": "datum.s === 'k10'", "value": 1.3}], "value": 1.1}
   }
  },
  {
   "mark": {"type": "point", "shape": "triangle-up", "filled": true, "color": "black", "size": 50, "opacity": 1},
   "encoding": {
    "x": {"field": "T", "type": "quantitative", "scale": {"type": "log", "domain": [1e4, 1e9], "nice": false},
          "axis": {"orient": "bottom", "values": [1e4,2e4,3e4,4e4,5e4,6e4,7e4,8e4,9e4,1e5,2e5,3e5,4e5,5e5,6e5,7e5,8e5,9e5,1e6,2e6,3e6,4e6,5e6,6e6,7e6,8e6,9e6,1e7,2e7,3e7,4e7,5e7,6e7,7e7,8e7,9e7,1e8,2e8,3e8,4e8,5e8,6e8,7e8,8e8,9e8,1e9], "labels": false, "grid": false, "tickSize": -7, "title": null, "minExtent": 0, "maxExtent": 0}},
    "y": {"field": "k1000", "type": "quantitative", "scale": {"domain": [0, 28], "nice": false, "zero": false},
          "axis": {"orient": "left", "values": [0,1,2,3,4,5,6,7,8,9,10,11,12,13,14,15,16,17,18,19,20,21,22,23,24,25,26,27,28], "labels": false, "grid": false, "tickSize": -6, "title": null, "minExtent": 0, "maxExtent": 0}}
   }
  },
  {
   "mark": {"type": "point", "opacity": 0},
   "encoding": {
    "x": {"field": "T", "type": "quantitative", "scale": {"type": "log", "domain": [1e4, 1e9], "nice": false}, "axis": null},
    "y": {"field": "k1000", "type": "quantitative", "scale": {"domain": [0, 28], "nice": false, "zero": false},
          "axis": {"orient": "right", "values": [0,1,2,3,4,5,6,7,8,9,10,11,12,13,14,15,16,17,18,19,20,21,22,23,24,25,26,27,28], "labels": false, "grid": false, "tickSize": -5, "title": null, "minExtent": 0, "maxExtent": 0}}
   }
  },
  {
   "mark": {"type": "point", "opacity": 0},
   "encoding": {
    "x": {"field": "T", "type": "quantitative", "scale": {"type": "log", "domain": [1e4, 1e9], "nice": false}, "axis": null},
    "y": {"field": "k1000", "type": "quantitative", "scale": {"domain": [0, 28], "nice": false, "zero": false},
          "axis": {"orient": "right", "values": [0,4,8,12,16,20,24,28], "labels": false, "grid": false, "tickSize": 7, "title": null, "minExtent": 0, "maxExtent": 0}}
   }
  }
 ]
},
{
 "width": 486, "height": 471,
 "data": {"name": "j"},
 "title": {"text": "j. Nickel", "dx": 37, "dy": 94},
 "resolve": {"axis": {"x": "independent", "y": "independent"}},
 "layer": [
  {
   "transform": [{"fold": ["k3","k5","k10","mx"], "as": ["s","Q"]}],
   "mark": {"type": "line", "color": "black", "interpolate": "monotone"},
   "encoding": {
    "x": {"field": "T", "type": "quantitative", "scale": {"type": "log", "domain": [1e4, 1e9], "nice": false},
          "axis": {"orient": "bottom", "values": [1e4,1e5,1e6,1e7,1e8,1e9], "labelExpr": "'10' + ['⁰','¹','²','³','⁴','⁵','⁶','⁷','⁸','⁹'][round(log(datum.value)/LN10)]", "grid": true, "tickSize": 7, "labelFontSize": 23, "labelPadding": 10, "labelOffset": -3, "title": "T(K)", "titleFontSize": 26, "titleFontWeight": "bold", "titlePadding": 20, "minExtent": 40, "maxExtent": 40}},
    "y": {"field": "Q", "type": "quantitative", "scale": {"domain": [0, 32], "nice": false, "zero": false},
          "axis": {"orient": "left", "values": [0,4,8,12,16,20,24,28,32], "grid": true, "tickSize": 7, "labelFontSize": 23, "labelPadding": 15, "title": "<Q>", "titleFontSize": 28, "titleFontWeight": "bold", "titlePadding": 7, "minExtent": 44, "maxExtent": 44}},
    "strokeDash": {"field": "s", "type": "nominal", "scale": {"domain": ["k3","k5","k10","k1000","mx"], "range": [[1,0],[1.5,3],[9,4],[1,0],[1,0]]},
          "legend": {"orient": "none", "legendX": 315, "legendY": 256.5, "title": null, "padding": 0, "clipHeight": 35, "rowPadding": 0, "symbolType": "stroke", "symbolSize": 1444, "symbolStrokeColor": "black", "symbolFillColor": "black", "symbolStrokeWidth": 1, "labelFont": "Liberation Serif", "labelFontSize": 26, "labelColor": "black", "labelOffset": 8, "labelLimit": 300,
                     "labelExpr": "{'k3':'κ=3','k5':'κ=5','k10':'κ=10','k1000':'κ=1000','mx':'Maxwell'}[datum.value]",
                     "encode": {"labels": {"update": {"font": {"value": "Liberation Serif"}, "fontSize": {"value": 26}, "dx": {"value": 7}}},
                                "symbols": {"update": {"shape": {"signal": "datum.value === 'k1000' ? 'triangle-up' : 'stroke'"}, "size": {"signal": "datum.value === 'k1000' ? 50 : 1444"}, "strokeWidth": {"signal": "datum.value === 'k3' ? 2.6 : datum.value === 'k5' ? 1.6 : datum.value === 'k10' ? 1.4 : datum.value === 'k1000' ? 0 : 1.1"}, "fill": {"value": "black"}, "stroke": {"value": "black"}, "opacity": {"value": 1}}}}}},
    "strokeWidth": {"condition": [{"test": "datum.s === 'k3'", "value": 2.6}, {"test": "datum.s === 'k5'", "value": 1.5}, {"test": "datum.s === 'k10'", "value": 1.3}], "value": 1.1}
   }
  },
  {
   "mark": {"type": "point", "shape": "triangle-up", "filled": true, "color": "black", "size": 50, "opacity": 1},
   "encoding": {
    "x": {"field": "T", "type": "quantitative", "scale": {"type": "log", "domain": [1e4, 1e9], "nice": false},
          "axis": {"orient": "bottom", "values": [1e4,2e4,3e4,4e4,5e4,6e4,7e4,8e4,9e4,1e5,2e5,3e5,4e5,5e5,6e5,7e5,8e5,9e5,1e6,2e6,3e6,4e6,5e6,6e6,7e6,8e6,9e6,1e7,2e7,3e7,4e7,5e7,6e7,7e7,8e7,9e7,1e8,2e8,3e8,4e8,5e8,6e8,7e8,8e8,9e8,1e9], "labels": false, "grid": false, "tickSize": -7, "title": null, "minExtent": 0, "maxExtent": 0}},
    "y": {"field": "k1000", "type": "quantitative", "scale": {"domain": [0, 32], "nice": false, "zero": false},
          "axis": {"orient": "left", "values": [0,1,2,3,4,5,6,7,8,9,10,11,12,13,14,15,16,17,18,19,20,21,22,23,24,25,26,27,28,29,30,31,32], "labels": false, "grid": false, "tickSize": -6, "title": null, "minExtent": 0, "maxExtent": 0}}
   }
  },
  {
   "mark": {"type": "point", "opacity": 0},
   "encoding": {
    "x": {"field": "T", "type": "quantitative", "scale": {"type": "log", "domain": [1e4, 1e9], "nice": false}, "axis": null},
    "y": {"field": "k1000", "type": "quantitative", "scale": {"domain": [0, 32], "nice": false, "zero": false},
          "axis": {"orient": "right", "values": [0,1,2,3,4,5,6,7,8,9,10,11,12,13,14,15,16,17,18,19,20,21,22,23,24,25,26,27,28,29,30,31,32], "labels": false, "grid": false, "tickSize": -5, "title": null, "minExtent": 0, "maxExtent": 0}}
   }
  },
  {
   "mark": {"type": "point", "opacity": 0},
   "encoding": {
    "x": {"field": "T", "type": "quantitative", "scale": {"type": "log", "domain": [1e4, 1e9], "nice": false}, "axis": null},
    "y": {"field": "k1000", "type": "quantitative", "scale": {"domain": [0, 32], "nice": false, "zero": false},
          "axis": {"orient": "right", "values": [0,4,8,12,16,20,24,28,32], "labels": false, "grid": false, "tickSize": 7, "title": null, "minExtent": 0, "maxExtent": 0}}
   }
  }
 ]
}
]
}
